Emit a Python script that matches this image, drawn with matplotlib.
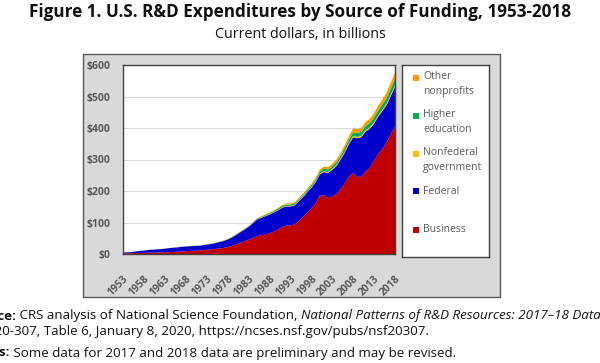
import matplotlib.pyplot as plt
from matplotlib.patches import Rectangle

# ---- data: U.S. R&D by source of funding, current $ billions ----
years = list(range(1953, 2019))

business = [
    2.24, 2.36, 2.46, 3.19, 3.39, 3.62, 4.03, 4.52, 4.75, 5.12,
    5.46, 5.89, 6.45, 7.22, 8.02, 8.87, 9.86, 10.44, 10.82, 11.71,
    13.29, 14.88, 15.82, 17.70, 19.34, 22.12, 25.69, 30.68, 35.43, 40.01,
    44.55, 50.72, 56.73, 59.84, 61.66, 65.43, 70.69, 77.00, 85.81, 90.10,
    90.56, 93.81, 104.50, 117.07, 131.44, 143.98, 159.45, 185.00, 187.00, 178.50,
    183.00, 190.00, 205.50, 224.00, 245.00, 257.50, 245.50, 245.00, 262.00, 274.00,
    296.00, 318.00, 333.00, 355.00, 380.00, 403.00,
]
federal = [
    2.76, 3.15, 3.51, 4.78, 6.38, 7.17, 8.65, 9.09, 9.76, 10.21,
    11.46, 12.77, 13.19, 14.06, 14.66, 14.93, 15.06, 14.98, 15.23, 16.04,
    16.41, 17.06, 18.44, 20.17, 21.76, 23.77, 26.37, 29.46, 33.38, 36.86,
    41.22, 46.25, 52.30, 54.72, 58.24, 59.71, 60.52, 61.45, 60.69, 60.95,
    60.36, 60.51, 62.40, 62.92, 64.14, 66.09, 67.52, 67.11, 73.26, 78.48,
    84.10, 89.20, 93.80, 98.20, 104.00, 113.00, 122.00, 126.50, 127.00, 124.00,
    118.00, 118.50, 121.00, 118.00, 122.00, 128.00,
]
nonfed_gov = [
    0.06, 0.07, 0.07, 0.08, 0.08, 0.09, 0.10, 0.10, 0.11, 0.12,
    0.13, 0.14, 0.15, 0.17, 0.19, 0.21, 0.23, 0.26, 0.28, 0.30,
    0.32, 0.35, 0.40, 0.45, 0.49, 0.55, 0.60, 0.65, 0.70, 0.75,
    0.80, 0.85, 0.92, 1.05, 1.20, 1.35, 1.50, 1.65, 1.75, 1.85,
    1.90, 1.95, 2.05, 2.10, 2.20, 2.30, 2.45, 2.60, 2.80, 2.95,
    3.05, 3.20, 3.35, 3.55, 3.75, 4.00, 4.10, 4.20, 4.10, 4.00,
    4.00, 4.10, 4.30, 4.50, 4.70, 4.90,
]
higher_ed = [
    0.05, 0.05, 0.06, 0.07, 0.08, 0.09, 0.10, 0.12, 0.13, 0.15,
    0.16, 0.18, 0.21, 0.23, 0.26, 0.29, 0.32, 0.36, 0.40, 0.45,
    0.50, 0.57, 0.65, 0.75, 0.85, 0.97, 1.10, 1.25, 1.40, 1.55,
    1.70, 1.90, 2.15, 2.45, 2.75, 3.10, 3.45, 3.85, 4.15, 4.40,
    4.60, 4.80, 5.05, 5.25, 5.55, 5.90, 6.40, 6.95, 7.60, 8.10,
    8.50, 9.00, 9.60, 10.30, 11.00, 11.70, 12.20, 12.60, 13.40, 14.20,
    15.00, 15.80, 16.60, 17.50, 18.60, 19.60,
]
other_np = [
    0.10, 0.11, 0.12, 0.13, 0.14, 0.15, 0.16, 0.17, 0.18, 0.19,
    0.20, 0.22, 0.24, 0.26, 0.28, 0.30, 0.33, 0.36, 0.38, 0.40,
    0.42, 0.45, 0.50, 0.55, 0.62, 0.70, 0.78, 0.87, 0.95, 1.05,
    1.20, 1.40, 1.55, 1.75, 1.95, 2.10, 2.30, 2.50, 2.70, 2.90,
    3.05, 3.25, 3.50, 3.80, 4.20, 4.70, 5.30, 6.00, 6.80, 7.50,
    8.00, 8.50, 9.00, 10.00, 11.20, 12.40, 12.30, 12.70, 13.00, 13.50,
    14.30, 15.00, 16.00, 17.20, 18.50, 20.00,
]

series = [business, federal, nonfed_gov, higher_ed, other_np]
labels = ['Business', 'Federal', 'Nonfederal\ngovernment', 'Higher\neducation', 'Other\nnonprofits']
colors = ['#c00000', '#0000cc', '#ffc000', '#00b050', '#ff9900']
yticks = [0, 100, 200, 300, 400, 500, 600]
xtick_years = years[::5]

plt.rcParams['font.family'] = ['Open Sans', 'DejaVu Sans']

W, H = 600, 363
fig = plt.figure(figsize=(6, 3.63), dpi=100)

def fx(px):
    return px / W

def fy(py):
    return 1 - py / H

# grey chart frame (behind the axes)
fig.patches.append(Rectangle((fx(83), fy(297)), fx(500) - fx(83), fy(54) - fy(297),
                             transform=fig.transFigure, facecolor='#d9d9d9',
                             edgecolor='#595959', linewidth=1.0, zorder=-5))

ax = fig.add_axes([fx(123), fy(254), fx(395) - fx(123), fy(65) - fy(254)])
ax.stackplot(years, *series, colors=colors, linewidth=0)
ax.set_xlim(years[0], years[-1])
ax.set_ylim(0, 600)
ax.set_yticks(yticks)
ax.set_yticklabels([f'${v}' for v in yticks], color='#595959', fontsize=7.5, fontweight='bold')
ax.set_xticks(xtick_years)
ax.set_xticklabels([str(y) for y in xtick_years], rotation=45, ha='right',
                   rotation_mode='anchor', color='#595959', fontsize=7.5, fontweight='bold')
ax.tick_params(axis='both', length=0)
ax.tick_params(axis='x', pad=14)
ax.tick_params(axis='y', pad=9)
ax.grid(axis='y', color='#d9d9d9', linewidth=0.8)
ax.set_axisbelow(True)
for s in ax.spines.values():
    s.set_color('#404040')
    s.set_linewidth(1.0)

# legend box
lax = fig.add_axes([fx(402), fy(257), fx(489) - fx(402), fy(65) - fy(257)])
lax.set_xlim(402, 489)
lax.set_ylim(257, 65)
lax.set_xticks([])
lax.set_yticks([])
for s in lax.spines.values():
    s.set_color('#404040')
    s.set_linewidth(1.0)
leg_y = [230, 191, 160, 122, 84]
for lab, col, y in zip(labels, colors, leg_y):
    sq_y = y - 9.5 if '\n' in lab else y - 3
    lax.add_patch(Rectangle((413, sq_y), 6, 6, facecolor=col, edgecolor='none'))
    lax.text(423, y, lab, va='center', ha='left', fontsize=7.5, color='#595959',
             linespacing=1.5)

# titles
fig.text(0.5, fy(12), 'Figure 1. U.S. R&D Expenditures by Source of Funding, 1953-2018',
         ha='center', va='center', fontsize=12.3, fontweight='bold', color='#111111')
fig.text(0.5, fy(35), 'Current dollars, in billions', ha='center', va='center',
         fontsize=10.3, color='#111111')

# source / notes lines (left part runs off the page, as in the original)
fig.canvas.draw()
renderer = fig.canvas.get_renderer()

def line(x0, y0, pieces):
    x = x0
    for txt, kw in pieces:
        t = fig.text(fx(x), fy(y0), txt, ha='left', va='center', fontsize=9.6,
                     color='#111111', **kw)
        x += t.get_window_extent(renderer).width

x0 = -33
line(x0, 316, [('Source:', {'fontweight': 'bold'}),
               (' CRS analysis of National Science Foundation, ', {}),
               ('National Patterns of R&D Resources: 2017\u201318 Data Update', {'style': 'italic'}),
               (',', {})])
line(x0, 331, [('NSF 20-307, Table 6, January 8, 2020, https://ncses.nsf.gov/pubs/nsf20307.', {})])
line(x0, 353, [('Notes:', {'fontweight': 'bold'}),
               (' Some data for 2017 and 2018 data are preliminary and may be revised.', {})])

fig.savefig('out.png', dpi=100)
